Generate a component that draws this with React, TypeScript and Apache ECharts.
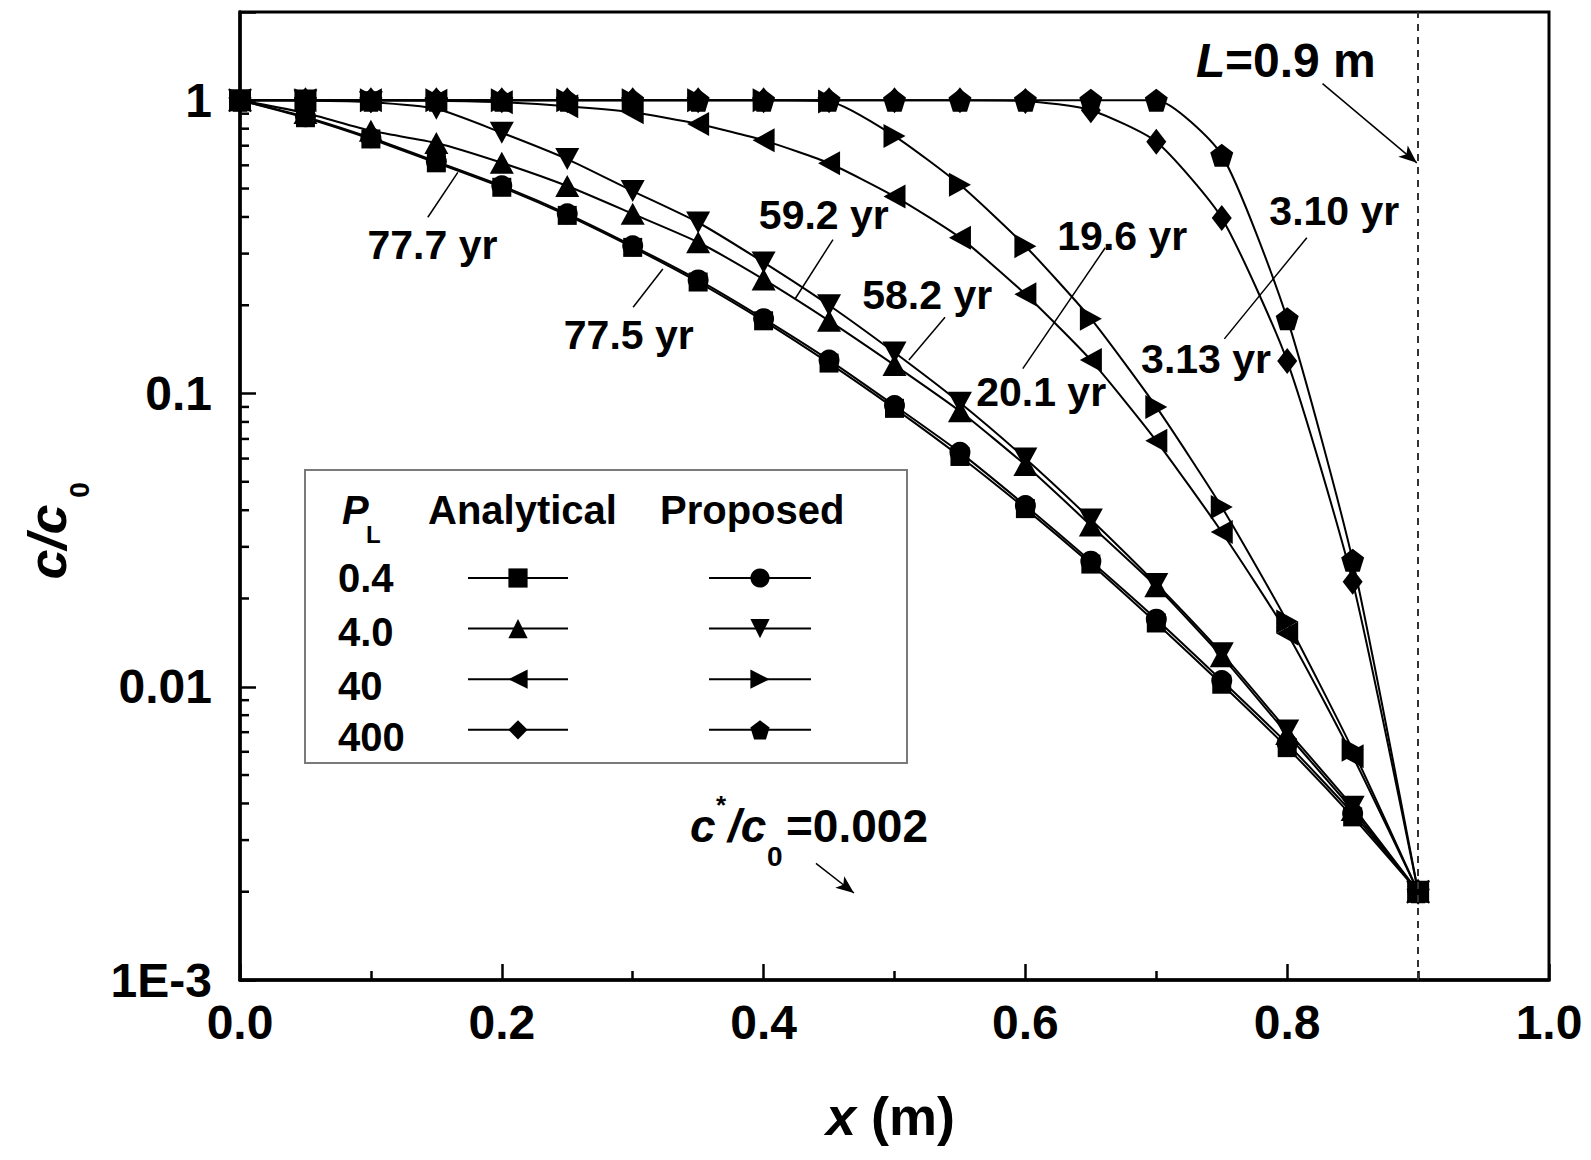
import React, { useEffect, useRef } from "react";
import * as echarts from "echarts";

const FONT = '"Liberation Sans", Arial, sans-serif';

// ---------- data ----------
const xPositions = [0, 0.05, 0.1, 0.15, 0.2, 0.25, 0.3, 0.35, 0.4, 0.45, 0.5, 0.55, 0.6, 0.65, 0.7, 0.75, 0.8, 0.85, 0.9];

const analytical04 = [1, 0.872, 0.738, 0.612, 0.505, 0.405, 0.315, 0.24, 0.177, 0.127, 0.089, 0.061, 0.0405, 0.0262, 0.0165, 0.0102, 0.0062, 0.0036, 0.002];
const proposed04 = [1, 0.878, 0.745, 0.618, 0.511, 0.41, 0.319, 0.244, 0.18, 0.13, 0.091, 0.063, 0.0415, 0.0268, 0.017, 0.0105, 0.0064, 0.0037, 0.002];
const analytical4 = [1, 0.905, 0.787, 0.715, 0.612, 0.51, 0.41, 0.328, 0.245, 0.177, 0.125, 0.087, 0.057, 0.0355, 0.022, 0.0127, 0.0069, 0.0038, 0.002];
const proposed4 = [1, 0.998, 0.985, 0.935, 0.775, 0.63, 0.49, 0.383, 0.28, 0.2, 0.138, 0.093, 0.06, 0.0372, 0.0224, 0.013, 0.0071, 0.0039, 0.002];
const analytical40 = [1, 1, 1, 0.997, 0.985, 0.955, 0.91, 0.83, 0.73, 0.61, 0.47, 0.34, 0.218, 0.13, 0.069, 0.0337, 0.0152, 0.0058, 0.002];
const proposed40 = [1, 1, 1, 1, 1, 1, 1, 1, 1, 0.99, 0.755, 0.515, 0.318, 0.18, 0.09, 0.041, 0.0167, 0.0061, 0.002];
const analytical400 = [1, 1, 1, 1, 1, 1, 1, 1, 1, 1, 1, 1, 0.995, 0.925, 0.722, 0.397, 0.129, 0.0228, 0.002];
const proposed400 = [1, 1, 1, 1, 1, 1, 1, 1, 1, 1, 1, 1, 1, 1, 1, 0.65, 0.18, 0.027, 0.002];

const plValues = ["0.4", "4.0", "40", "400"];

const yTickValues = [0.001, 0.01, 0.1, 1];
const yTickLabels = ["1E-3", "0.01", "0.1", "1"];
const yMinorTickValues = [
  0.002, 0.003, 0.004, 0.005, 0.006, 0.007, 0.008, 0.009,
  0.02, 0.03, 0.04, 0.05, 0.06, 0.07, 0.08, 0.09,
  0.2, 0.3, 0.4, 0.5, 0.6, 0.7, 0.8, 0.9,
];

const lengthL = 0.9;
const criticalRatio = 0.002;

const timeLabels = ["77.7 yr", "77.5 yr", "59.2 yr", "58.2 yr", "19.6 yr", "20.1 yr", "3.10 yr", "3.13 yr"];
const timeLabelX = [0.147, 0.297, 0.446, 0.525, 0.674, 0.612, 0.836, 0.738];
const timeLabelY = [0.322, 0.158, 0.405, 0.216, 0.345, 0.101, 0.42, 0.131];

const leaderLines: [number, number][][] = [
  [[0.1435, 0.399], [0.1664, 0.568]],
  [[0.3003, 0.197], [0.323, 0.266]],
  [[0.453, 0.335], [0.424, 0.21]],
  [[0.5386, 0.182], [0.511, 0.13]],
  [[0.661, 0.314], [0.598, 0.1216]],
  [[0.815, 0.34], [0.752, 0.1536]],
];
const arrowL: [number, number][] = [[0.827, 1.14], [0.899, 0.612]];
const arrowC: [number, number][] = [[0.44, 0.0025], [0.469, 0.00198]];

// ---------- symbols ----------
const SYM_UP = "path://M5,0L10,9L0,9Z";
const SYM_DOWN = "path://M0,0L10,0L5,9Z";
const SYM_LEFT = "path://M0,5L9,0L9,10Z";
const SYM_RIGHT = "path://M9,5L0,0L0,10Z";
const SYM_PENT = "path://M50,0L97.6,34.5L79.4,90.5L20.6,90.5L2.4,34.5Z";

const seriesDefs = [
  { name: "Analytical, PL = 0.4", data: analytical04, symbol: "rect", size: 19 as any },
  { name: "Proposed, PL = 0.4", data: proposed04, symbol: "circle", size: 21 as any },
  { name: "Analytical, PL = 4.0", data: analytical4, symbol: SYM_UP, size: [24, 22] as any },
  { name: "Proposed, PL = 4.0", data: proposed4, symbol: SYM_DOWN, size: [24, 22] as any },
  { name: "Analytical, PL = 40", data: analytical40, symbol: SYM_LEFT, size: [22, 24] as any },
  { name: "Proposed, PL = 40", data: proposed40, symbol: SYM_RIGHT, size: [22, 24] as any },
  { name: "Analytical, PL = 400", data: analytical400, symbol: "diamond", size: [20, 26] as any },
  { name: "Proposed, PL = 400", data: proposed400, symbol: SYM_PENT, size: 23 as any },
];

function txt(x: number, y: number, text: string, font: string, align = "left") {
  return {
    type: "text",
    x,
    y,
    silent: true,
    z: 20,
    style: {
      text,
      font: font + " " + FONT,
      fill: "#000",
      textAlign: align,
      textVerticalAlign: "middle",
    },
  };
}

function buildOption() {
  const lineSeries: any[] = seriesDefs.map((s, i) => ({
    name: s.name,
    type: "line",
    data: xPositions.map((x, k) => [x, s.data[k]]),
    symbol: s.symbol,
    symbolSize: s.size,
    showSymbol: true,
    smooth: 0.2,
    lineStyle: { color: "#000", width: 2 },
    itemStyle: { color: "#000", opacity: 1 },
    emphasis: { disabled: true },
    silent: true,
    z: 3 + i * 0.01,
  }));

  lineSeries[0].markLine = {
    silent: true,
    animation: false,
    symbol: ["none", "none"],
    label: { show: false },
    emphasis: { disabled: true },
    lineStyle: { color: "#000", width: 1.5, type: "solid" },
    data: [
      { xAxis: lengthL, lineStyle: { color: "#333", width: 2, type: [7, 6] } },
      { yAxis: criticalRatio, lineStyle: { color: "#999", width: 3, type: [7, 7] } },
      ...leaderLines.map(([a, b]) => [{ coord: a }, { coord: b }]),
      [{ coord: arrowL[0] }, { coord: arrowL[1], symbol: "arrow", symbolSize: [11, 18] }],
      [{ coord: arrowC[0] }, { coord: arrowC[1], symbol: "arrow", symbolSize: [11, 18] }],
    ],
  };

  const minorTickSeries = {
    type: "custom",
    name: "yMinorTicks",
    silent: true,
    clip: false,
    z: 6,
    data: yMinorTickValues.map((v) => [0, v]),
    encode: { x: 0, y: 1 },
    renderItem: (_params: any, api: any) => {
      const p = api.coord([0, api.value(1)]);
      return {
        type: "line",
        shape: { x1: p[0], y1: p[1], x2: p[0] + 9, y2: p[1] },
        style: { stroke: "#000", lineWidth: 2.5 },
      };
    },
  };

  const labelSeries = {
    type: "scatter",
    name: "timeLabels",
    silent: true,
    z: 10,
    symbolSize: 1,
    itemStyle: { color: "rgba(0,0,0,0)", opacity: 1 },
    data: timeLabels.map((t, i) => ({ name: t, value: [timeLabelX[i], timeLabelY[i]] })),
    label: {
      show: true,
      position: "inside",
      formatter: "{b}",
      color: "#000",
      opacity: 1,
      fontSize: 41,
      fontWeight: "bold",
      fontFamily: FONT,
      textBorderWidth: 0,
    },
  };

  const analyticalNames = seriesDefs.filter((_, i) => i % 2 === 0).map((s) => s.name);
  const proposedNames = seriesDefs.filter((_, i) => i % 2 === 1).map((s) => s.name);

  const legendCommon = {
    orient: "vertical",
    top: 566,
    itemHeight: 24,
    itemGap: 29,
    padding: 0,
    selectedMode: false,
    formatter: () => "",
    textStyle: { fontSize: 10 },
  };

  const rowY = [578, 632, 686, 737];

  const graphic: any[] = [
    {
      type: "rect",
      silent: true,
      z: 1,
      shape: { x: 305, y: 470, width: 602, height: 293 },
      style: { fill: "rgba(0,0,0,0)", stroke: "#7a7a7a", lineWidth: 2 },
    },
    txt(342, 510, "P", "italic bold 40px"),
    txt(366, 534, "L", "bold 24px"),
    txt(428, 510, "Analytical", "bold 40px"),
    txt(660, 510, "Proposed", "bold 40px"),
    ...plValues.map((v, i) => txt(338, rowY[i], v, "bold 40px")),
    // x axis title
    txt(826, 1116, "x", "italic bold 54px"),
    txt(871, 1116, "(m)", "bold 54px"),
    // y axis title
    {
      type: "group",
      x: 47,
      y: 542,
      rotation: Math.PI / 2,
      children: [
        txt(0, 0, "c/c", "italic bold 54px", "center"),
        txt(52, 32, "0", "bold 28px", "center"),
      ],
    },
    // L = 0.9 m
    txt(1196, 60, "L", "italic bold 48px"),
    txt(1225, 60, "=0.9 m", "bold 48px"),
    // c*/c0 = 0.002
    txt(690, 826, "c", "italic bold 46px"),
    txt(716, 805, "*", "bold 26px"),
    txt(728, 826, "/c", "italic bold 46px"),
    txt(767, 856, "0", "bold 28px"),
    txt(786, 826, "=0.002", "bold 46px"),
  ];

  return {
    animation: false,
    backgroundColor: "#fff",
    textStyle: { fontFamily: FONT },
    grid: {
      left: 240,
      right: 42,
      top: 12,
      bottom: 180,
      show: true,
      borderColor: "#000",
      borderWidth: 3,
      backgroundColor: "rgba(0,0,0,0)",
      containLabel: false,
      outerBoundsMode: "none",
    },
    legend: [
      { ...legendCommon, data: analyticalNames, left: 467, itemWidth: 100 },
      { ...legendCommon, data: proposedNames, left: 708, itemWidth: 102 },
    ],
    xAxis: {
      type: "value",
      min: 0,
      max: 1,
      interval: 0.2,
      axisLine: { show: true, lineStyle: { color: "#000", width: 3.5 } },
      axisTick: { show: true, inside: true, length: 16, lineStyle: { color: "#000", width: 2.5 } },
      minorTick: { show: true, splitNumber: 2, length: 9, lineStyle: { color: "#000", width: 2.5 } },
      splitLine: { show: false },
      minorSplitLine: { show: false },
      axisLabel: {
        margin: 18,
        color: "#000",
        fontSize: 48,
        fontWeight: "bold",
        fontFamily: FONT,
        formatter: (v: number) => v.toFixed(1),
      },
    },
    yAxis: {
      type: "log",
      logBase: 10,
      min: 0.001,
      max: 2,
      axisLine: { show: true, lineStyle: { color: "#000", width: 3.5 } },
      axisTick: { show: true, inside: true, length: 16, lineStyle: { color: "#000", width: 2.5 } },
      splitLine: { show: false },
      axisLabel: {
        margin: 28,
        color: "#000",
        fontSize: 48,
        fontWeight: "bold",
        fontFamily: FONT,
        formatter: (v: number) => {
          for (let i = 0; i < yTickValues.length; i++) {
            if (Math.abs(v - yTickValues[i]) / yTickValues[i] < 1e-6) return yTickLabels[i];
          }
          return "";
        },
      },
    },
    graphic,
    series: [...lineSeries, minorTickSeries, labelSeries],
  };
}

export default function App() {
  const ref = useRef<HTMLDivElement>(null);
  useEffect(() => {
    if (!ref.current) return;
    const chart = echarts.init(ref.current, null, { renderer: "svg" });
    chart.setOption(buildOption() as any);
    return () => chart.dispose();
  }, []);
  return (
    <div
      ref={ref}
      style={{ position: "absolute", left: 0, top: 0, width: 1591, height: 1160, background: "#fff" }}
    />
  );
}
